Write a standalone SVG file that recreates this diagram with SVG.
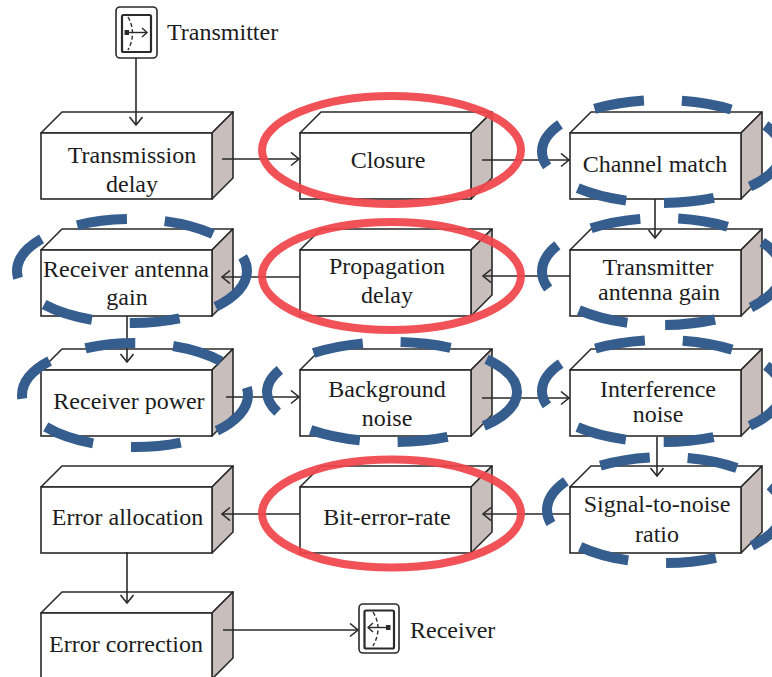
<svg xmlns="http://www.w3.org/2000/svg" width="772" height="677" viewBox="0 0 772 677">
<defs>
<style>
.front{fill:#fff;stroke:#2a2a2a;stroke-width:1.6}
.top{fill:#fff;stroke:#2a2a2a;stroke-width:1.6;stroke-linejoin:round}
.side{fill:#c8bebc;stroke:#2a2a2a;stroke-width:1.6;stroke-linejoin:round}
.lbl{font-family:"Liberation Serif","Times New Roman",serif;font-size:24px;fill:#1c1c1c;text-anchor:middle}
.lbls{font-family:"Liberation Serif","Times New Roman",serif;font-size:24px;fill:#1c1c1c}
.conn{stroke:#2a2a2a;stroke-width:1.6;fill:none;marker-end:url(#arr)}
.red{fill:none;stroke:#f0454b;stroke-width:8;opacity:0.93}
.blue{fill:none;stroke:#355d8e;stroke-width:10;stroke-dasharray:50 38}
.icon-o{fill:#fff;stroke:#2a2a2a;stroke-width:1.6}
.icon-i{fill:none;stroke:#2a2a2a;stroke-width:2.2}
.icon-l{fill:none;stroke:#2a2a2a;stroke-width:1.4}
.icon-d{fill:none;stroke:#2a2a2a;stroke-width:1.4;stroke-dasharray:4 2.5}
</style>
<marker id="arr" markerUnits="userSpaceOnUse" markerWidth="14" markerHeight="16" refX="9" refY="7" orient="auto">
<path d="M1,0.5 L9,7 L1,13.5" fill="none" stroke="#2a2a2a" stroke-width="1.6"/>
</marker>
<g id="boxshape">
<polygon class="top" points="0,0 171,0 192,-21 21,-21"/>
<polygon class="side" points="171,0 192,-21 192,45 171,66"/>
<rect class="front" x="0" y="0" width="171" height="66"/>
</g>
</defs>
<rect width="772" height="677" fill="#fff"/>

<g id="transmitter">
<rect class="icon-o" x="116" y="7" width="41" height="51" rx="4"/>
<rect class="icon-i" x="122" y="15" width="29" height="37" rx="1.5"/>
<path class="icon-d" d="M128,17 Q137,33 128,50"/>
<line class="icon-l" x1="127" y1="32.5" x2="147" y2="32.5"/>
<path class="icon-l" d="M142,28 L147,32.5 L142,37"/>
<rect x="124.5" y="30" width="4.5" height="5" fill="#2a2a2a"/>
<text class="lbls" x="167" y="40">Transmitter</text>
</g>

<g id="receiver">
<rect class="icon-o" x="359" y="604" width="40" height="49" rx="4"/>
<rect class="icon-i" x="364.5" y="610.5" width="29.5" height="38" rx="1.5"/>
<path class="icon-d" d="M373,612 Q383,628 373,646"/>
<line class="icon-l" x1="389" y1="627.5" x2="368" y2="627.5"/>
<path class="icon-l" d="M373,623 L368,627.5 L373,632"/>
<rect x="386" y="625" width="4.5" height="5" fill="#2a2a2a"/>
<text class="lbls" x="410" y="638">Receiver</text>
</g>

<g id="n-transmission-delay">
<use href="#boxshape" x="41" y="133"/>
<text class="lbl" x="132" y="163">Transmission</text>
<text class="lbl" x="132" y="192">delay</text>
</g>
<g id="n-closure">
<use href="#boxshape" x="300" y="133"/>
<text class="lbl" x="388" y="168">Closure</text>
</g>
<g id="n-channel-match">
<use href="#boxshape" x="570" y="133"/>
<text class="lbl" x="655" y="172">Channel match</text>
</g>
<g id="n-receiver-antenna-gain">
<use href="#boxshape" x="41" y="250"/>
<text class="lbl" x="126" y="277">Receiver antenna</text>
<text class="lbl" x="127" y="305">gain</text>
</g>
<g id="n-propagation-delay">
<use href="#boxshape" x="300" y="250"/>
<text class="lbl" x="387" y="274">Propagation</text>
<text class="lbl" x="387" y="303">delay</text>
</g>
<g id="n-transmitter-antenna-gain">
<use href="#boxshape" x="570" y="250"/>
<text class="lbl" x="658" y="275">Transmitter</text>
<text class="lbl" x="659" y="300">antenna gain</text>
</g>
<g id="n-receiver-power">
<use href="#boxshape" x="41" y="370"/>
<text class="lbl" x="129" y="409">Receiver power</text>
</g>
<g id="n-background-noise">
<use href="#boxshape" x="300" y="370"/>
<text class="lbl" x="387" y="397">Background</text>
<text class="lbl" x="387" y="426">noise</text>
</g>
<g id="n-interference-noise">
<use href="#boxshape" x="570" y="370"/>
<text class="lbl" x="658" y="397">Interference</text>
<text class="lbl" x="658" y="422">noise</text>
</g>
<g id="n-error-allocation">
<use href="#boxshape" x="41" y="487"/>
<text class="lbl" x="127.5" y="525">Error allocation</text>
</g>
<g id="n-bit-error-rate">
<use href="#boxshape" x="300" y="487"/>
<text class="lbl" x="387" y="525">Bit-error-rate</text>
</g>
<g id="n-signal-to-noise-ratio">
<use href="#boxshape" x="570" y="487"/>
<text class="lbl" x="657" y="512">Signal-to-noise</text>
<text class="lbl" x="657" y="542">ratio</text>
</g>
<g id="n-error-correction">
<use href="#boxshape" x="41" y="613"/>
<text class="lbl" x="126" y="652">Error correction</text>
</g>

<g id="connectors">
<line class="conn" x1="136" y1="58" x2="136" y2="125"/>
<line class="conn" x1="222" y1="159" x2="299" y2="159"/>
<line class="conn" x1="482" y1="160" x2="569" y2="160"/>
<line class="conn" x1="655" y1="199" x2="655" y2="238"/>
<line class="conn" x1="570" y1="276" x2="483" y2="276"/>
<line class="conn" x1="300" y1="277" x2="222" y2="277"/>
<line class="conn" x1="127" y1="316" x2="127" y2="362"/>
<line class="conn" x1="226" y1="397" x2="299" y2="397"/>
<line class="conn" x1="482" y1="398" x2="569" y2="398"/>
<line class="conn" x1="657" y1="437" x2="657" y2="476"/>
<line class="conn" x1="570" y1="514" x2="483" y2="514"/>
<line class="conn" x1="300" y1="514" x2="222" y2="514"/>
<line class="conn" x1="127" y1="552" x2="127" y2="603"/>
<line class="conn" x1="223" y1="630" x2="358" y2="630"/>
</g>

<g id="highlights">
<ellipse class="red" cx="391.5" cy="150" rx="129.5" ry="54"/>
<ellipse class="red" cx="391.5" cy="276" rx="129.5" ry="54"/>
<ellipse class="red" cx="391.5" cy="513.5" rx="129.5" ry="54"/>
<ellipse class="blue" cx="662" cy="151.5" rx="120" ry="51.5"/>
<ellipse class="blue" cx="662" cy="271.5" rx="120" ry="53.5"/>
<ellipse class="blue" cx="132" cy="271" rx="115" ry="52"/>
<ellipse class="blue" cx="135" cy="395" rx="113" ry="52"/>
<ellipse class="blue" cx="392" cy="392" rx="125" ry="50"/>
<ellipse class="blue" cx="662" cy="391" rx="120" ry="51"/>
<ellipse class="blue" cx="665" cy="510" rx="118" ry="53"/>
</g>
</svg>
